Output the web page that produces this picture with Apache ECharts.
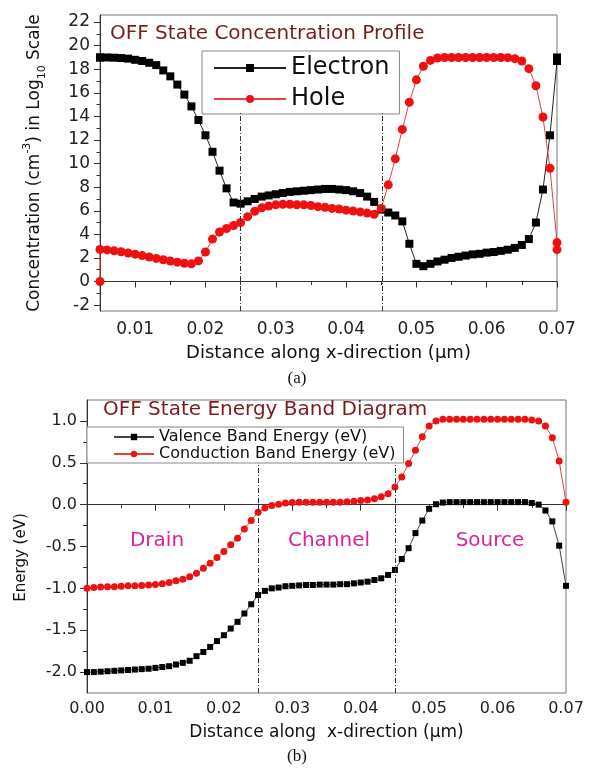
<!DOCTYPE html>
<html>
<head>
<meta charset="utf-8">
<title>OFF State Concentration Profile / Energy Band Diagram</title>
<script src="https://cdn.jsdelivr.net/npm/echarts@6.0.0/dist/echarts.min.js"></script>
<style>
  html, body { margin: 0; padding: 0; background: #fff; }
  #main { width: 594px; height: 771px; }
</style>
</head>
<body>
<div id="main"></div>
<script>
// ---- (a) concentration profile (log10 scale) ----
var xTop = [0.005, 0.005, 0.006, 0.007, 0.008, 0.009,
  0.010, 0.011, 0.012, 0.013, 0.014, 0.015, 0.016, 0.017, 0.018, 0.019,
  0.020, 0.021, 0.022, 0.023, 0.024, 0.025, 0.026, 0.027, 0.028, 0.029,
  0.030, 0.031, 0.032, 0.033, 0.034, 0.035, 0.036, 0.037, 0.038, 0.039,
  0.040, 0.041, 0.042, 0.043, 0.044, 0.045, 0.046, 0.047, 0.048, 0.049,
  0.050, 0.051, 0.052, 0.053, 0.054, 0.055, 0.056, 0.057, 0.058, 0.059,
  0.060, 0.061, 0.062, 0.063, 0.064, 0.065, 0.066, 0.067, 0.068, 0.069,
  0.070, 0.070];
var electron = [19.0, 19.0, 19.0, 18.98, 18.95, 18.9,
  18.8, 18.7, 18.55, 18.35, 17.9, 17.4, 16.7, 15.85, 14.85, 13.7,
  12.4, 11.0, 9.4, 7.9, 6.7, 6.6, 6.8, 7.0, 7.2, 7.3,
  7.4, 7.5, 7.6, 7.65, 7.7, 7.75, 7.8, 7.85, 7.85, 7.8,
  7.75, 7.65, 7.5, 7.2, 6.75, 6.1, 5.85, 5.6, 5.1, 3.2,
  1.5, 1.3, 1.5, 1.7, 1.85, 2.0, 2.1, 2.2, 2.3, 2.35,
  2.45, 2.5, 2.6, 2.7, 2.85, 3.1, 3.6, 5.0, 7.8, 12.4,
  18.7, 19.0];
var hole = [0, 2.72, 2.68, 2.6, 2.52, 2.42,
  2.32, 2.2, 2.08, 1.96, 1.85, 1.74, 1.64, 1.55, 1.5, 1.75,
  2.5, 3.6, 4.2, 4.5, 4.75, 5.0, 5.5, 5.95, 6.25, 6.4,
  6.5, 6.55, 6.55, 6.5, 6.5, 6.45, 6.35, 6.3, 6.2, 6.15,
  6.05, 5.98, 5.9, 5.8, 5.7, 6.2, 8.2, 10.4, 12.9, 15.2,
  17.1, 18.25, 18.75, 18.95, 19.0, 19.0, 19.0, 19.0, 19.0, 19.0,
  19.0, 19.0, 19.0, 18.98, 18.9, 18.7, 18.05, 16.6, 13.95, 9.6,
  3.3, 2.7];

// ---- (b) energy band diagram ----
var xBottom = [0.000, 0.001, 0.002, 0.003, 0.004, 0.005, 0.006, 0.007, 0.008, 0.009,
  0.010, 0.011, 0.012, 0.013, 0.014, 0.015, 0.016, 0.017, 0.018, 0.019,
  0.020, 0.021, 0.022, 0.023, 0.024, 0.025, 0.026, 0.027, 0.028, 0.029,
  0.030, 0.031, 0.032, 0.033, 0.034, 0.035, 0.036, 0.037, 0.038, 0.039,
  0.040, 0.041, 0.042, 0.043, 0.044, 0.045, 0.046, 0.047, 0.048, 0.049,
  0.050, 0.051, 0.052, 0.053, 0.054, 0.055, 0.056, 0.057, 0.058, 0.059,
  0.060, 0.061, 0.062, 0.063, 0.064, 0.065, 0.066, 0.067, 0.068, 0.069,
  0.070];
var valence = [-2.00, -2.00, -1.995, -1.99, -1.985, -1.98, -1.975, -1.97, -1.965, -1.96,
  -1.95, -1.94, -1.93, -1.91, -1.89, -1.865, -1.81, -1.76, -1.70, -1.63,
  -1.56, -1.48, -1.40, -1.30, -1.19, -1.08, -1.03, -1.00, -0.99, -0.975,
  -0.97, -0.965, -0.96, -0.96, -0.955, -0.955, -0.955, -0.95, -0.95, -0.94,
  -0.93, -0.92, -0.90, -0.88, -0.84, -0.78, -0.65, -0.52, -0.34, -0.19,
  -0.05, 0.005, 0.025, 0.03, 0.03, 0.03, 0.03, 0.03, 0.03, 0.03,
  0.03, 0.03, 0.03, 0.03, 0.03, 0.02, 0.0, -0.07, -0.20, -0.49,
  -0.97];
var conduction = [-1.00, -0.99, -0.985, -0.98, -0.98, -0.975, -0.97, -0.97, -0.965, -0.96,
  -0.955, -0.945, -0.93, -0.91, -0.89, -0.86, -0.82, -0.76, -0.70, -0.63,
  -0.56, -0.48, -0.40, -0.29, -0.19, -0.09, -0.04, -0.01, 0.005, 0.02,
  0.025, 0.03, 0.03, 0.03, 0.03, 0.03, 0.03, 0.03, 0.035, 0.04,
  0.05, 0.055, 0.07, 0.095, 0.13, 0.21, 0.33, 0.49, 0.65, 0.81,
  0.94, 1.0, 1.02, 1.02, 1.02, 1.02, 1.02, 1.02, 1.02, 1.02,
  1.02, 1.02, 1.02, 1.02, 1.02, 1.01, 1.0, 0.94, 0.80, 0.52,
  0.03];

// drain | channel | source boundaries (um)
var boundaries = [0.025, 0.0451];

// ticks
var topXMajor = [0.01, 0.02, 0.03, 0.04, 0.05, 0.06, 0.07];
var topXMinor = [0.005, 0.015, 0.025, 0.035, 0.045, 0.055, 0.065];
var topYMajor = [-2, 0, 2, 4, 6, 8, 10, 12, 14, 16, 18, 20, 22];
var topYMinor = [-1, 1, 3, 5, 7, 9, 11, 13, 15, 17, 19, 21];
var botXMajor = [0, 0.01, 0.02, 0.03, 0.04, 0.05, 0.06, 0.07];
var botXMinor = [0.005, 0.015, 0.025, 0.035, 0.045, 0.055, 0.065];
var botYMajor = [-2, -1.5, -1, -0.5, 0, 0.5, 1];
var botYMinor = [-1.75, -1.25, -0.75, -0.25, 0.25, 0.75];

var FONT = "'DejaVu Sans', sans-serif";
var AXIS = "#333";

function pairs(xs, ys) {
  return xs.map(function (x, i) { return [x, ys[i]]; });
}

// main axis with labels + major ticks
function mainAxis(grid, min, max, major, digits, fontSize, margin, tickLen) {
  return {
    type: "value",
    gridIndex: grid,
    min: min,
    max: max,
    axisLine: { show: true, lineStyle: { color: AXIS, width: 1 } },
    axisTick: { show: true, customValues: major, length: tickLen, lineStyle: { color: AXIS } },
    axisLabel: {
      customValues: major,
      margin: margin,
      color: "#222",
      fontFamily: FONT,
      fontSize: fontSize,
      formatter: function (v) { return v.toFixed(digits); }
    },
    splitLine: { show: false }
  };
}
// overlay axis only used for the short minor ticks
function minorAxis(grid, min, max, minor, tickLen) {
  return {
    type: "value",
    gridIndex: grid,
    min: min,
    max: max,
    axisLine: { show: false },
    axisTick: { show: true, customValues: minor, length: tickLen, lineStyle: { color: AXIS } },
    axisLabel: { show: false },
    splitLine: { show: false }
  };
}

var chart = echarts.init(document.getElementById("main"));

var xa0 = mainAxis(0, 0.005, 0.07, topXMajor, 2, 17, 10, 6);
xa0.position = "bottom";
xa0.name = "Distance along x-direction (\u03bcm)";
xa0.nameLocation = "middle";
xa0.nameGap = 33;
xa0.nameTextStyle = { fontFamily: FONT, fontSize: 18, color: "#111" };
var xa1 = minorAxis(0, 0.005, 0.07, topXMinor, 3.5);
xa1.position = "bottom";

var xa2 = mainAxis(1, 0, 0.07, botXMajor, 2, 16, 8, 6);
xa2.position = "bottom";
xa2.name = "Distance along  x-direction (\u03bcm)";
xa2.nameLocation = "middle";
xa2.nameGap = 31;
xa2.nameTextStyle = { fontFamily: FONT, fontSize: 17, color: "#111" };
var xa3 = minorAxis(1, 0, 0.07, botXMinor, 3.5);
xa3.position = "bottom";

var ya0 = mainAxis(0, -2.5, 22.6, topYMajor, 0, 17, 10, 6);
ya0.position = "left";
ya0.name = "Concentration (cm{sup|-3}) in Log{sub|10} Scale";
ya0.nameLocation = "middle";
ya0.nameGap = 52;
ya0.nameTextStyle = {
  fontFamily: FONT, fontSize: 17, color: "#111", lineHeight: 26,
  rich: {
    sup: { fontFamily: FONT, fontSize: 11, verticalAlign: "top", lineHeight: 26, color: "#111" },
    sub: { fontFamily: FONT, fontSize: 11, verticalAlign: "bottom", lineHeight: 26, color: "#111" }
  }
};
var ya1 = minorAxis(0, -2.5, 22.6, topYMinor, 3.5);
ya1.position = "left";

var ya2 = mainAxis(1, -2.25, 1.25, botYMajor, 1, 16, 10, 7);
ya2.position = "left";
ya2.name = "Energy (eV)";
ya2.nameLocation = "middle";
ya2.nameGap = 58;
ya2.nameTextStyle = { fontFamily: FONT, fontSize: 15, color: "#111", padding: [0, 22, 0, 0] };
var ya3 = minorAxis(1, -2.25, 1.25, botYMinor, 4);
ya3.position = "left";

function boundaryLines(yFrom, yTo) {
  return {
    silent: true,
    symbol: "none",
    animation: false,
    label: { show: false },
    lineStyle: { color: "#333", width: 1, type: [5, 2, 1, 2] },
    data: boundaries.map(function (b) {
      return [{ coord: [b, yFrom] }, { coord: [b, yTo] }];
    })
  };
}

var regionText = { fontFamily: FONT, fontSize: 20, fill: "#dd2299" };

chart.setOption({
  animation: false,
  backgroundColor: "#fff",
  title: [
    {
      text: "OFF State Concentration Profile",
      left: 110, top: 24, padding: 0,
      textStyle: { fontFamily: FONT, fontSize: 20, fontWeight: "normal", color: "#7a1c1c" }
    },
    {
      text: "OFF State Energy Band Diagram",
      left: 103, top: 400, padding: 0,
      textStyle: { fontFamily: FONT, fontSize: 20, fontWeight: "normal", color: "#7a1c1c" }
    }
  ],
  grid: [
    { left: 100, top: 15, width: 457, height: 296, show: true, borderColor: "#777", borderWidth: 1 },
    { left: 87, top: 400, width: 479, height: 293, show: true, borderColor: "#777", borderWidth: 1 }
  ],
  legend: [
    {
      data: ["Electron", "Hole"],
      orient: "vertical",
      left: 202, top: 51,
      padding: [5, 10, 3, 11],
      itemGap: 7,
      itemWidth: 72,
      itemHeight: 10,
      backgroundColor: "#fff",
      borderColor: "#888",
      borderWidth: 1,
      textStyle: { fontFamily: FONT, fontSize: 24, color: "#111" }
    },
    {
      data: ["Valence Band Energy (eV)", "Conduction Band Energy (eV)"],
      orient: "vertical",
      left: 87, top: 427,
      padding: [2, 8, 1, 26],
      itemGap: 1,
      itemWidth: 40,
      itemHeight: 8,
      backgroundColor: "#fff",
      borderColor: "#888",
      borderWidth: 1,
      textStyle: { fontFamily: FONT, fontSize: 16, color: "#111" }
    }
  ],
  xAxis: [xa0, xa1, xa2, xa3],
  yAxis: [ya0, ya1, ya2, ya3],
  series: [
    {
      name: "Electron",
      type: "line",
      xAxisIndex: 0, yAxisIndex: 0,
      data: pairs(xTop, electron),
      symbol: "rect",
      symbolSize: 8,
      itemStyle: { color: "#000" },
      lineStyle: { color: "#222", width: 1 },
      markLine: boundaryLines(-2.5, 14.3)
    },
    {
      name: "Hole",
      type: "line",
      xAxisIndex: 0, yAxisIndex: 0,
      data: pairs(xTop, hole),
      symbol: "circle",
      symbolSize: 9,
      itemStyle: { color: "#ee1111" },
      lineStyle: { color: "#e84040", width: 1 }
    },
    {
      name: "Valence Band Energy (eV)",
      type: "line",
      xAxisIndex: 2, yAxisIndex: 2,
      data: pairs(xBottom, valence),
      symbol: "rect",
      symbolSize: 6,
      itemStyle: { color: "#000" },
      lineStyle: { color: "#444", width: 1 },
      markLine: boundaryLines(-2.25, 0.5)
    },
    {
      name: "Conduction Band Energy (eV)",
      type: "line",
      xAxisIndex: 2, yAxisIndex: 2,
      data: pairs(xBottom, conduction),
      symbol: "circle",
      symbolSize: 7,
      itemStyle: { color: "#ee1111" },
      lineStyle: { color: "#e84040", width: 1 }
    }
  ],
  graphic: [
    { type: "text", x: 297, y: 379, style: { text: "(a)", fontFamily: "'Liberation Serif', serif", fontSize: 17, fill: "#111", align: "center", verticalAlign: "middle" } },
    { type: "text", x: 297, y: 757, style: { text: "(b)", fontFamily: "'Liberation Serif', serif", fontSize: 17, fill: "#111", align: "center", verticalAlign: "middle" } },
    { type: "text", x: 157, y: 541, style: Object.assign({ text: "Drain", align: "center", verticalAlign: "middle" }, regionText) },
    { type: "text", x: 329, y: 541, style: Object.assign({ text: "Channel", align: "center", verticalAlign: "middle" }, regionText) },
    { type: "text", x: 490, y: 541, style: Object.assign({ text: "Source", align: "center", verticalAlign: "middle" }, regionText) }
  ]
});
</script>
</body>
</html>
